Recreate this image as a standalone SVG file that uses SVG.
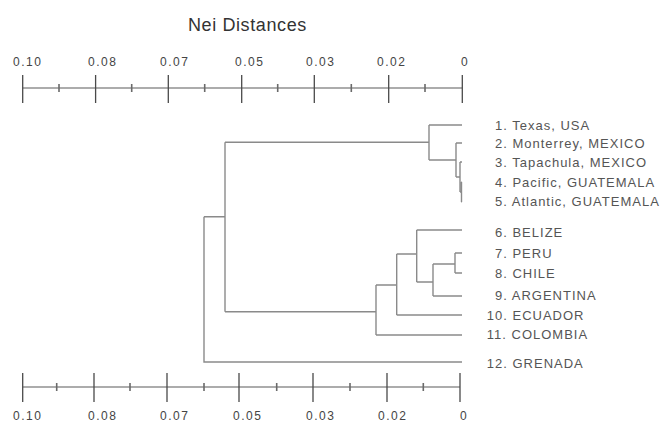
<svg xmlns="http://www.w3.org/2000/svg" width="665" height="421" viewBox="0 0 665 421">
<style>
.bg{fill:#fff}
.ax{stroke:#5a5a5a;stroke-width:1.2;fill:none}
.tk{stroke:#4a4a4a;stroke-width:1.3}
.mn{stroke:#6a6a6a;stroke-width:1.6}
.br{stroke:#8a8a8a;stroke-width:1.4;fill:none}
.title{font-family:"Liberation Sans",Arial,sans-serif;font-size:18px;fill:#333;letter-spacing:0.6px}
.al{font-family:"Liberation Sans",Arial,sans-serif;font-size:12px;fill:#444;letter-spacing:1.5px}
.lb{font-family:"Liberation Sans",Arial,sans-serif;font-size:13px;fill:#555;letter-spacing:1px}
</style>
<rect class="bg" x="0" y="0" width="665" height="421"/>
<text class="title" x="188" y="30.5">Nei Distances</text>

<g id="axis-top">
<path class="ax" d="M22.7 88H462.3"/>
<path class="tk" d="M22.7 75V103M95.6 75V103M168.3 75V103M241.7 75V103M314.3 75V103M388.7 75V103M462.3 75V103"/>
<path class="mn" d="M59 84V92M131.7 84V92M204.7 84V92M277.7 84V92M351.3 84V92M425 84V92"/>
<text class="al" x="13" y="66">0.10</text>
<text class="al" x="88" y="66">0.08</text>
<text class="al" x="160" y="66">0.07</text>
<text class="al" x="235" y="66">0.05</text>
<text class="al" x="306" y="66">0.03</text>
<text class="al" x="377" y="66">0.02</text>
<text class="al" x="461" y="66">0</text>
</g>

<g id="axis-bottom">
<path class="ax" d="M22.7 387H460"/>
<path class="tk" d="M22.7 373V402M94 373V402M167 373V402M239 373V402M313 373V402M387 373V402M460 373V402"/>
<path class="mn" d="M56.7 383V391M130 383V391M204 383V391M276.7 383V391M350 383V391M423.3 383V391"/>
<text class="al" x="13" y="419.5">0.10</text>
<text class="al" x="88" y="419.5">0.08</text>
<text class="al" x="160" y="419.5">0.07</text>
<text class="al" x="233" y="419.5">0.05</text>
<text class="al" x="306" y="419.5">0.03</text>
<text class="al" x="378" y="419.5">0.02</text>
<text class="al" x="460" y="419.5">0</text>
</g>

<g id="connectors">
<path class="br" d="M204 216.7H225M204 216.7V362H462"/>
<path class="br" d="M225 142.3V311.7"/>
<path class="br" d="M225 142.3H429M429 125V160M429 125H462M429 160H456"/>
<path class="br" d="M456 143V177M456 143H462M456 177H460M460 162V192M460 162H462M460 192H461.5M461.5 182V202M461.5 182H462M461.5 202H462"/>
<path class="br" d="M225 311.7H376M376 285V335M376 335H462M376 285H396.7"/>
<path class="br" d="M396.7 254V315M396.7 315H462M396.7 254H416.7"/>
<path class="br" d="M416.7 230V282M416.7 230H462M416.7 282H433"/>
<path class="br" d="M433 264V296M433 296H462M433 264H455M455 253V273M455 253H462M455 273H462"/>
</g>

<g id="n1"><text class="lb" x="495" y="129.5">1. Texas, USA</text></g>
<g id="n2"><text class="lb" x="495" y="147.5">2. Monterrey, MEXICO</text></g>
<g id="n3"><text class="lb" x="495" y="166.5">3. Tapachula, MEXICO</text></g>
<g id="n4"><text class="lb" x="495" y="186.5">4. Pacific, GUATEMALA</text></g>
<g id="n5"><text class="lb" x="495" y="206">5. Atlantic, GUATEMALA</text></g>
<g id="n6"><text class="lb" x="495" y="237">6. BELIZE</text></g>
<g id="n7"><text class="lb" x="495" y="257.5">7. PERU</text></g>
<g id="n8"><text class="lb" x="495" y="278">8. CHILE</text></g>
<g id="n9"><text class="lb" x="495" y="300">9. ARGENTINA</text></g>
<g id="n10"><text class="lb" x="486.8" y="319.5">10. ECUADOR</text></g>
<g id="n11"><text class="lb" x="486.8" y="339">11. COLOMBIA</text></g>
<g id="n12"><text class="lb" x="486.8" y="368">12. GRENADA</text></g>
</svg>
